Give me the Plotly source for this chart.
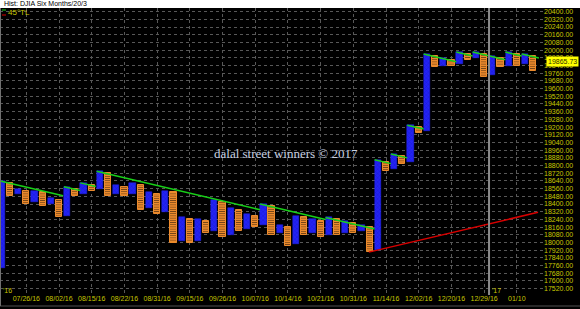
import plotly.graph_objects as go

# ---------------- data ----------------
col_index = list(range(66))
col_kind = ["X" if i % 2 == 0 else "O" for i in col_index]
col_low = [17740, 18480, 18500, 18400, 18420, 18380, 18400, 18260, 18280, 18480,
           18500, 18540, 18560, 18480, 18500, 18480, 18500, 18340, 18360, 18300,
           18320, 18000, 18020, 18000, 18020, 18100, 18120, 18060, 18080, 18120,
           18140, 18160, 18180, 18080, 18100, 17960, 17980, 18080, 18100, 18060,
           18080, 18080, 18100, 18100, 18120, 17900, 17920, 18740, 18760, 18820,
           18840, 19140, 19160, 19820, 19840, 19840, 19860, 19900, 19920, 19720,
           19740, 19820, 19840, 19840, 19860, 19780]
col_high = [18640, 18620, 18560, 18540, 18540, 18520, 18460, 18440, 18580, 18560,
            18620, 18600, 18740, 18720, 18600, 18580, 18620, 18600, 18520, 18500,
            18540, 18520, 18260, 18240, 18240, 18220, 18440, 18420, 18360, 18340,
            18300, 18280, 18400, 18380, 18180, 18160, 18280, 18260, 18240, 18220,
            18260, 18240, 18220, 18200, 18180, 18160, 18860, 18840, 18920, 18900,
            19220, 19200, 19960, 19940, 19920, 19900, 19980, 19960, 19980, 19960,
            19940, 19920, 19980, 19960, 19960, 19940]

# 45 degree trend lines: (start col, start value, end col, end value)
green_start_col = [-0.2, 7.6, 9.6, 11.6, 31.6, 39.6, 45.6, 47.6, 49.6, 51.6, 55.6, 57.6, 61.6, 63.6]
green_start_val = [18640, 18580, 18620, 18740, 18400, 18260, 18860, 18920, 19220, 19960, 19980, 19980, 19980, 19960]
green_end_col = [7.5, 9.6, 11.5, 31.6, 39.6, 45.6, 47.6, 49.6, 51.6, 55.6, 57.6, 61.6, 63.6, 65.7]
green_end_val = [18486, 18540, 18582, 18340, 18240, 18140, 18820, 18880, 19180, 19880, 19940, 19900, 19940, 19918]

red_cols = [44.9, 65.6]
red_vals = [17900, 18314]

date_cols = [3, 7, 11, 15, 19, 23, 27, 31, 35, 39, 43, 47, 51, 55, 59, 63]
date_labels = ["07/26/16", "08/02/16", "08/15/16", "08/22/16", "08/31/16", "09/15/16",
               "09/26/16", "10/07/16", "10/14/16", "10/21/16", "10/31/16", "11/14/16",
               "12/02/16", "12/20/16", "12/29/16", "01/10"]
year_break_col = 59.6
last_price = 19865.73

# ---------------- layout constants ----------------
W, H = 580, 309
ML, MR, MT, MB = 0, 37, 8, 16
PW = W - ML - MR
PH = H - MT - MB
FONT = "Liberation Sans Narrow, Liberation Sans, Arial Narrow, sans-serif"
TXT = "#c8c800"
BLUE = "#2323f5"
ORANGE = "#ec8a2c"

fig = go.Figure()

xs_x = [c for c, k in zip(col_index, col_kind) if k == "X"]
xs_o = [c for c, k in zip(col_index, col_kind) if k == "O"]
lo_x = [l for l, k in zip(col_low, col_kind) if k == "X"]
hi_x = [h for h, k in zip(col_high, col_kind) if k == "X"]
lo_o = [l for l, k in zip(col_low, col_kind) if k == "O"]
hi_o = [h for h, k in zip(col_high, col_kind) if k == "O"]

fig.add_trace(go.Bar(
    x=xs_x, y=[h - l for h, l in zip(hi_x, lo_x)], base=lo_x, width=0.76,
    marker=dict(color=BLUE, line=dict(color=BLUE, width=0.5),
                pattern=dict(shape="x", fgcolor="#0c0ca0", size=3, solidity=0.25)),
    showlegend=False, hoverinfo="skip"))
fig.add_trace(go.Bar(
    x=xs_o, y=[h - l for h, l in zip(hi_o, lo_o)], base=lo_o, width=0.76,
    marker=dict(color=ORANGE, line=dict(color=ORANGE, width=1),
                pattern=dict(shape="-", fgcolor="#000000", size=2.2, solidity=0.35)),
    showlegend=False, hoverinfo="skip"))

for sc, sv, ec, ev in zip(green_start_col, green_start_val, green_end_col, green_end_val):
    fig.add_trace(go.Scatter(x=[sc, ec], y=[sv, ev], mode="lines",
                             line=dict(color="#18d018", width=1.5),
                             showlegend=False, hoverinfo="skip"))

fig.add_trace(go.Scatter(x=red_cols, y=red_vals, mode="lines",
                         line=dict(color="#d80000", width=1.5),
                         showlegend=False, hoverinfo="skip"))

shapes = []
# header bar
shapes.append(dict(type="rect", xref="paper", yref="paper", x0=0, x1=W / PW,
                   y0=1, y1=1 + MT / PH, fillcolor="#ffffff", line=dict(width=0), layer="above"))
# year separator
shapes.append(dict(type="line", xref="x", yref="paper", x0=year_break_col, x1=year_break_col,
                   y0=-2 / PH, y1=1, line=dict(color="#8a8a8a", width=2)))
# bottom border line
shapes.append(dict(type="line", xref="paper", yref="paper", x0=0, x1=W / PW,
                   y0=-13 / PH, y1=-13 / PH, line=dict(color="#505050", width=1)))
# left border
shapes.append(dict(type="line", xref="paper", yref="paper", x0=0.5 / PW, x1=0.5 / PW,
                   y0=-13 / PH, y1=1, line=dict(color="#707070", width=1)))
# legend icon
shapes.append(dict(type="line", xref="paper", yref="paper", x0=2 / PW, x1=6 / PW,
                   y0=1 - 2 / PH, y1=1 - 2 / PH, line=dict(color="#18d018", width=1)))
shapes.append(dict(type="line", xref="paper", yref="paper", x0=2 / PW, x1=6 / PW,
                   y0=1 - 7 / PH, y1=1 - 7 / PH, line=dict(color="#d80000", width=1)))

annotations = [
    dict(text="Hist: DJIA Six Months/20/3", xref="paper", yref="paper",
         x=2 / PW, y=1 + 4 / PH, xanchor="left", yanchor="middle", showarrow=False,
         font=dict(family=FONT, size=7, color="#000000")),
    dict(text="45°TL", xref="paper", yref="paper",
         x=6 / PW, y=1 - 4.5 / PH, xanchor="left", yanchor="middle", showarrow=False,
         font=dict(family=FONT, size=8, color=TXT)),
    dict(text="dalal street winners © 2017", x=34.8, y=18930, xref="x", yref="y",
         showarrow=False, xanchor="center", yanchor="middle",
         font=dict(family="Liberation Serif, Times New Roman, serif", size=13, color="#c8d0e0")),
    dict(text="'16", xref="paper", yref="paper", x=1 / PW, y=3 / PH,
         xanchor="left", yanchor="middle", showarrow=False,
         font=dict(family=FONT, size=7, color=TXT)),
    dict(text="'17", xref="paper", yref="paper", x=490 / PW, y=3 / PH,
         xanchor="left", yanchor="middle", showarrow=False,
         font=dict(family=FONT, size=7, color=TXT)),
    dict(text="19865.73", xref="paper", yref="y", x=(PW + 3) / PW, y=last_price,
         yshift=2, xanchor="left", yanchor="middle", showarrow=False,
         bgcolor="#ffff00", borderpad=1,
         font=dict(family=FONT, size=7, color="#303000")),
]

fig.update_layout(
    width=W, height=H,
    margin=dict(l=ML, r=MR, t=MT, b=MB, pad=0),
    paper_bgcolor="#000000", plot_bgcolor="#000000",
    barmode="overlay", bargap=0,
    shapes=shapes, annotations=annotations,
    xaxis=dict(range=[-0.22, (PW - 1.8) / 8.175], tickmode="array",
               tickvals=date_cols, ticktext=date_labels,
               showgrid=True, gridcolor="#585858", griddash="dot", gridwidth=1,
               zeroline=False, showline=False, ticks="",
               tickfont=dict(family=FONT, size=7, color=TXT)),
    yaxis=dict(range=[17475, 20438], side="right", tick0=17520, dtick=80,
               tickformat=".2f", showgrid=True, gridcolor="#585858", griddash="dot",
               gridwidth=1, zeroline=False, showline=False, ticks="",
               tickfont=dict(family=FONT, size=7, color=TXT)),
)

fig.write_html("out.html", config={"displayModeBar": False})
